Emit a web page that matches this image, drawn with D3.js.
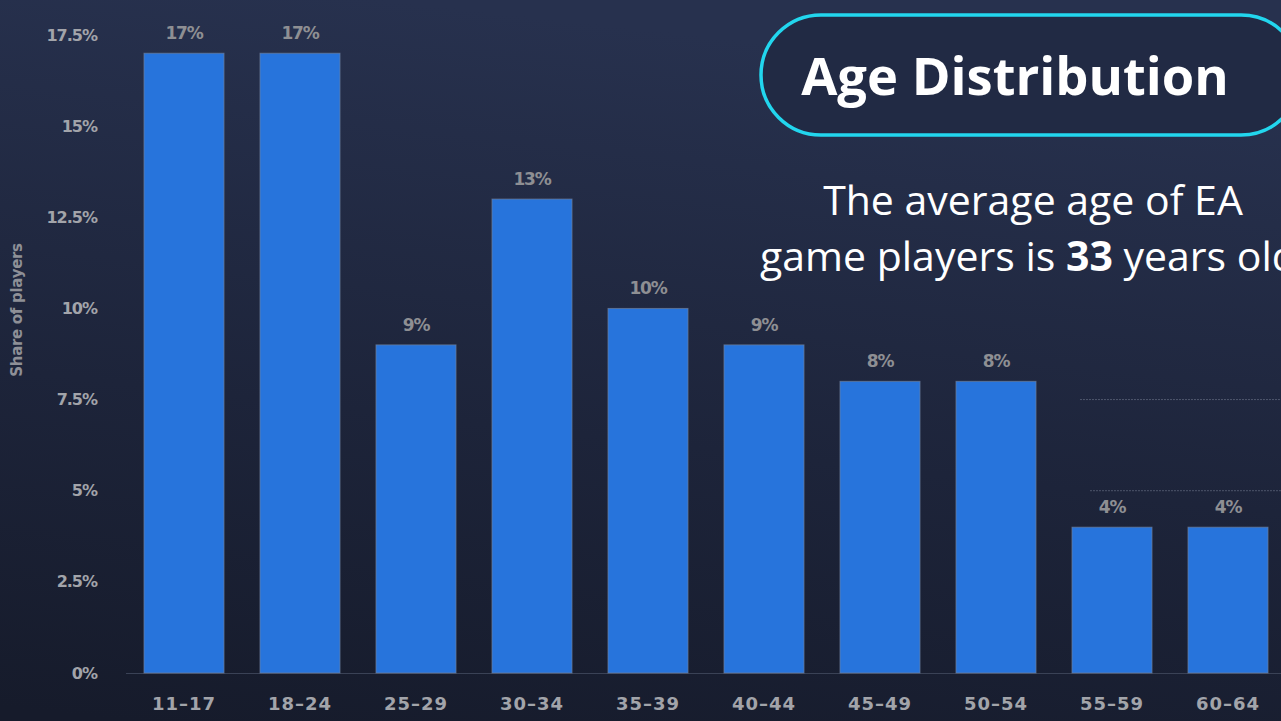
<!DOCTYPE html>
<html>
<head>
<meta charset="utf-8">
<script src="https://cdn.jsdelivr.net/npm/d3@7"></script>
<style>
  html,body{margin:0;padding:0;overflow:hidden;background:#1b2235;}
  svg{display:block;}
</style>
</head>
<body>
<svg id="chart" width="1281" height="721"></svg>
<script>
const categories = ["11–17","18–24","25–29","30–34","35–39","40–44","45–49","50–54","55–59","60–64"];
const values = [17,17,9,13,10,9,8,8,4,4];
const yTicks = [0,2.5,5,7.5,10,12.5,15,17.5];
const yTickLabels = ["0%","2.5%","5%","7.5%","10%","12.5%","15%","17.5%"];
const valueLabels = ["17%","17%","9%","13%","10%","9%","8%","8%","4%","4%"];
const titleText = "Age Distribution";
const subtitleLine1 = "The average age of EA";
const subtitleLine2 = ["game players is ", "33", " years old"];
const gridPartial = [7.5,5];

const W = 1281, H = 721;
const svg = d3.select("#chart");

const defs = svg.append("defs");
const bg = defs.append("linearGradient").attr("id","bg")
  .attr("x1","0.3").attr("y1","0").attr("x2","0.1").attr("y2","1");
bg.append("stop").attr("offset","0%").attr("stop-color","#27314e");
bg.append("stop").attr("offset","55%").attr("stop-color","#1d243a");
bg.append("stop").attr("offset","100%").attr("stop-color","#161b2b");
svg.append("rect").attr("width",W).attr("height",H).attr("fill","url(#bg)");

const x = d3.scaleBand().domain(categories).range([126,1286]).paddingInner(0.31).paddingOuter(0.155);
const y = d3.scaleLinear().domain([0,17.5]).range([673,35]);

// partial grid lines (right side)
svg.append("g").selectAll("line").data(gridPartial).join("line")
  .attr("x1", (d,i)=> x("55–59") + (i? 18 : 8)).attr("x2", W)
  .attr("y1", d=>y(d)).attr("y2", d=>y(d))
  .attr("stroke","#8a93a6").attr("stroke-opacity",0.45)
  .attr("stroke-width",1).attr("stroke-dasharray","2,1");

// baseline
svg.append("line").attr("x1",126).attr("x2",W).attr("y1",y(0)+0.5).attr("y2",y(0)+0.5)
  .attr("stroke","#3a4256").attr("stroke-width",1);

// bars
svg.append("g").selectAll("rect").data(values).join("rect")
  .attr("x",(d,i)=>x(categories[i]))
  .attr("y",d=>y(d))
  .attr("width",x.bandwidth())
  .attr("height",d=>y(0)-y(d))
  .attr("fill","#2774dc")
  .attr("stroke","#6f7f99").attr("stroke-width",1).attr("stroke-opacity",0.7);

// value labels
svg.append("g").selectAll("text").data(values).join("text")
  .attr("x",(d,i)=>x(categories[i])+x.bandwidth()/2)
  .attr("y",d=>y(d)-14)
  .attr("text-anchor","middle")
  .attr("font-family","'DejaVu Sans', sans-serif")
  .attr("font-weight","bold")
  .attr("font-size",17)
  .attr("letter-spacing","-1.2")
  .attr("fill","#8e8f93")
  .text((d,i)=>valueLabels[i]);

// y axis
const yAxis = d3.axisLeft(y).tickValues(yTicks).tickSize(0).tickPadding(0)
  .tickFormat((d,i)=>yTickLabels[i]);
const gy = svg.append("g").attr("transform","translate(97,0)").call(yAxis);
gy.select(".domain").remove();
gy.selectAll("text")
  .attr("font-family","'DejaVu Sans', sans-serif")
  .attr("font-weight","bold")
  .attr("font-size",16)
  .attr("letter-spacing","-1")
  .attr("fill","#a2a4aa");

// x axis
const xAxis = d3.axisBottom(x).tickSize(0).tickPadding(0);
const gx = svg.append("g").attr("transform","translate(0,"+(y(0)+37)+")").call(xAxis);
gx.select(".domain").remove();
gx.selectAll("text")
  .attr("dy","0")
  .attr("font-family","'DejaVu Sans', sans-serif")
  .attr("font-weight","bold")
  .attr("font-size",18)
  .attr("letter-spacing","1")
  .attr("fill","#a2a4aa");

// y title
svg.append("text")
  .attr("transform","translate(22,310) rotate(-90)")
  .attr("text-anchor","middle")
  .attr("font-family","'DejaVu Sans', sans-serif")
  .attr("font-weight","bold")
  .attr("font-size",15)
  .attr("letter-spacing","-0.3")
  .attr("fill","#8e9097")
  .text("Share of players");

// Title pill
svg.append("rect")
  .attr("x",761).attr("y",15).attr("width",540).attr("height",120)
  .attr("rx",60).attr("ry",60)
  .attr("fill","#212a44")
  .attr("stroke","#22d6ee").attr("stroke-width",3.5);
svg.append("text")
  .attr("x",1015).attr("y",95)
  .attr("text-anchor","middle")
  .attr("font-family","'Open Sans', sans-serif")
  .attr("font-weight","bold")
  .attr("font-size",52.5)
  .attr("fill","#ffffff")
  .text(titleText);

svg.append("text")
  .attr("x",1033).attr("y",215)
  .attr("text-anchor","middle")
  .attr("font-family","'Open Sans', sans-serif")
  .attr("font-size",41)
  .attr("fill","#ffffff")
  .text(subtitleLine1);
const t2 = svg.append("text")
  .attr("x",760).attr("y",271)
  .attr("text-anchor","start")
  .attr("font-family","'Open Sans', sans-serif")
  .attr("font-size",41)
  .attr("fill","#ffffff");
subtitleLine2.forEach((s,i)=>{
  t2.append("tspan").attr("font-weight", i===1 ? "bold" : "normal").text(s);
});
</script>
</body>
</html>
